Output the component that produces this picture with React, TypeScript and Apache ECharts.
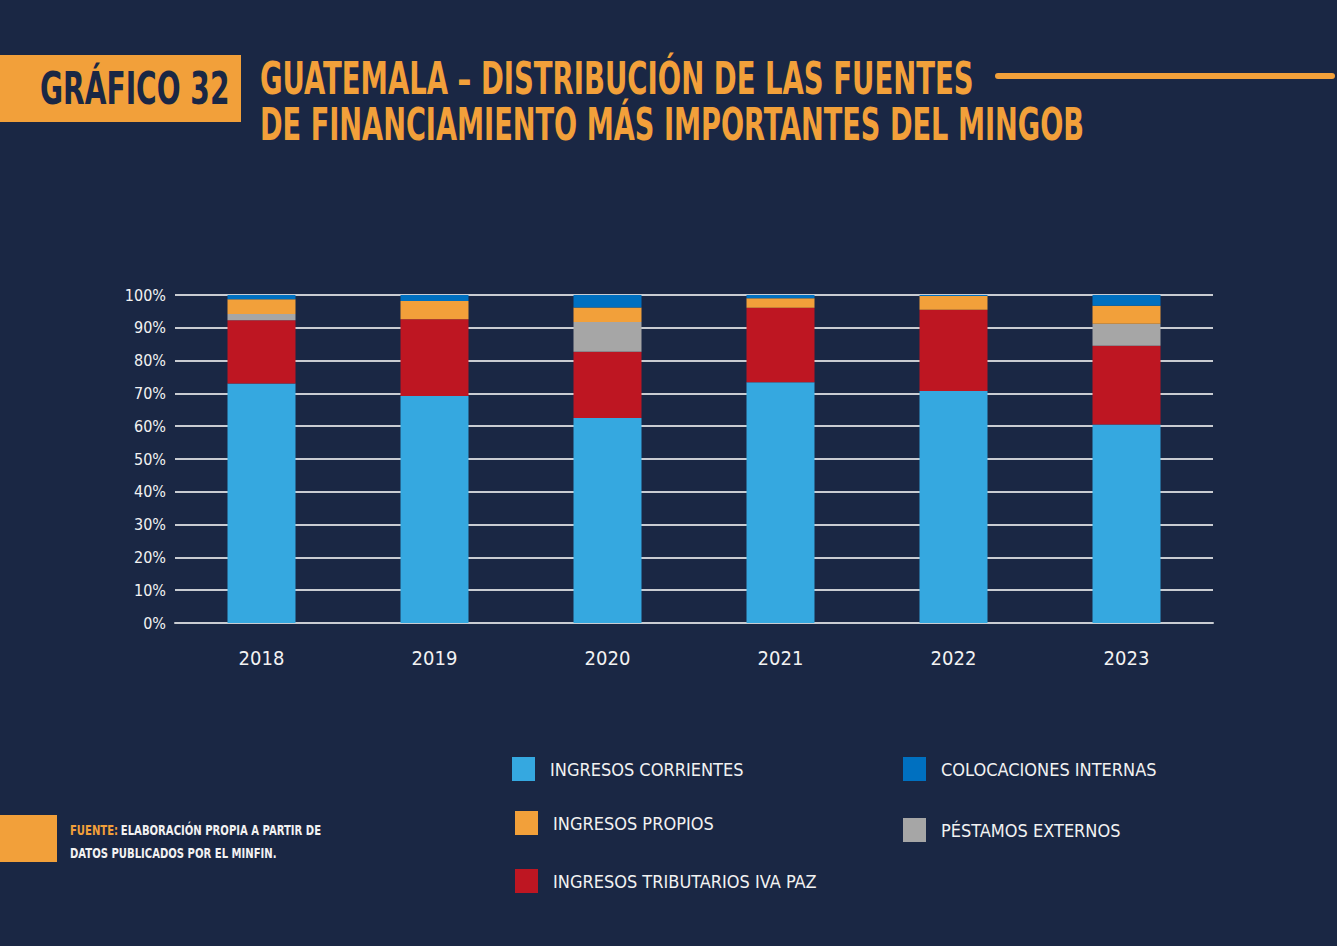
import React, { useEffect, useRef } from "react";
import * as echarts from "echarts";

const years = ["2018", "2019", "2020", "2021", "2022", "2023"];
const ingresosCorrientes = [73.0, 69.2, 62.5, 73.4, 70.7, 60.5];
const ingresosTributarios = [19.3, 23.4, 20.2, 22.7, 24.8, 24.0];
const prestamosExternos = [1.9, 0, 9.1, 0, 0, 6.7];
const ingresosPropios = [4.5, 5.6, 4.4, 2.9, 4.2, 5.5];
const colocacionesInternas = [1.3, 1.8, 3.8, 1.0, 0.3, 3.3];
const yTicks = [0, 10, 20, 30, 40, 50, 60, 70, 80, 90, 100];

const BG = "#1A2744";
const ORANGE = "#F2A03A";
const FONT = "'Liberation Sans Narrow', 'DejaVu Sans Condensed', 'Roboto', sans-serif";

const seriesDefs = [
  { name: "INGRESOS CORRIENTES", data: ingresosCorrientes, color: "#35A8E0" },
  { name: "INGRESOS TRIBUTARIOS IVA PAZ", data: ingresosTributarios, color: "#BE1622" },
  { name: "PÉSTAMOS EXTERNOS", data: prestamosExternos, color: "#A6A6A6" },
  { name: "INGRESOS PROPIOS", data: ingresosPropios, color: ORANGE },
  { name: "COLOCACIONES INTERNAS", data: colocacionesInternas, color: "#0070C0" },
];

const legendPos: Record<string, [number, number]> = {
  "INGRESOS CORRIENTES": [512, 757],
  "INGRESOS PROPIOS": [515, 811],
  "INGRESOS TRIBUTARIOS IVA PAZ": [515, 869],
  "COLOCACIONES INTERNAS": [903, 757],
  "PÉSTAMOS EXTERNOS": [903, 818],
};

export default function App() {
  const ref = useRef<HTMLDivElement>(null);
  useEffect(() => {
    if (!ref.current) return;
    const chart = echarts.init(ref.current, null, { renderer: "svg" });
    const option: any = {
      animation: false,
      backgroundColor: BG,
      textStyle: { fontFamily: FONT },
      grid: { left: 175, right: 124, top: 295, bottom: 323, containLabel: false },
      xAxis: {
        type: "category",
        data: years,
        axisLine: { show: true, lineStyle: { color: "#C9CCD2", width: 2 } },
        axisTick: { show: false },
        axisLabel: { color: "#F2F2F2", fontSize: 20, margin: 25, fontFamily: FONT },
      },
      yAxis: {
        type: "value",
        min: 0,
        max: 100,
        interval: 10,
        axisLine: { show: false },
        axisTick: { show: false },
        axisLabel: {
          color: "#F2F2F2",
          fontSize: 16,
          margin: 9,
          fontFamily: FONT,
          formatter: (v: number) => (yTicks.includes(v) ? `${v}%` : ""),
        },
        splitLine: { show: true, lineStyle: { color: "#C9CCD2", width: 2 } },
      },
      legend: seriesDefs.map((s) => ({
        data: [s.name],
        left: legendPos[s.name][0],
        top: legendPos[s.name][1],
        padding: 0,
        icon: "rect",
        itemWidth: 23,
        itemHeight: 24,
        selectedMode: false,
        textStyle: { color: "#F2F2F2", fontSize: 18, fontFamily: FONT, padding: [0, 0, 0, 10] },
      })),
      series: seriesDefs.map((s) => ({
        name: s.name,
        type: "bar",
        stack: "total",
        barWidth: 68,
        data: s.data,
        itemStyle: { color: s.color },
      })),
      graphic: [
        { type: "rect", shape: { x: 0, y: 55, width: 241, height: 67 }, style: { fill: ORANGE } },
        {
          type: "text",
          x: 40,
          y: 89,
          scaleX: 0.71,
          style: {
            text: "GRÁFICO 32",
            fill: BG,
            font: `bold 44px ${FONT}`,
            textAlign: "left",
            textVerticalAlign: "middle",
          },
        },
        {
          type: "text",
          x: 260,
          y: 78,
          scaleX: 0.68,
          style: {
            text: "GUATEMALA – DISTRIBUCIÓN DE LAS FUENTES",
            fill: ORANGE,
            font: `bold 45px ${FONT}`,
            textAlign: "left",
            textVerticalAlign: "middle",
          },
        },
        {
          type: "text",
          x: 260,
          y: 124,
          scaleX: 0.672,
          style: {
            text: "DE FINANCIAMIENTO MÁS IMPORTANTES DEL MINGOB",
            fill: ORANGE,
            font: `bold 45px ${FONT}`,
            textAlign: "left",
            textVerticalAlign: "middle",
          },
        },
        {
          type: "line",
          shape: { x1: 998, y1: 76, x2: 1332, y2: 76 },
          style: { stroke: ORANGE, lineWidth: 6, lineCap: "round" },
        },
        { type: "rect", shape: { x: 0, y: 815, width: 57, height: 47 }, style: { fill: ORANGE } },
        {
          type: "text",
          x: 70,
          y: 830,
          scaleX: 0.8,
          style: {
            text: "{o|FUENTE:} {w|ELABORACIÓN PROPIA A PARTIR DE}",
            textVerticalAlign: "middle",
            rich: {
              o: { fill: ORANGE, font: `bold 14px ${FONT}` },
              w: { fill: "#F2F2F2", font: `bold 14px ${FONT}` },
            },
          },
        },
        {
          type: "text",
          x: 70,
          y: 853,
          scaleX: 0.8,
          style: {
            text: "DATOS PUBLICADOS POR EL MINFIN.",
            fill: "#F2F2F2",
            font: `bold 14px ${FONT}`,
            textVerticalAlign: "middle",
          },
        },
      ],
    };
    chart.setOption(option);
    return () => chart.dispose();
  }, []);
  return (
    <div
      ref={ref}
      style={{ position: "fixed", left: 0, top: 0, width: 1337, height: 946, background: BG }}
    />
  );
}
